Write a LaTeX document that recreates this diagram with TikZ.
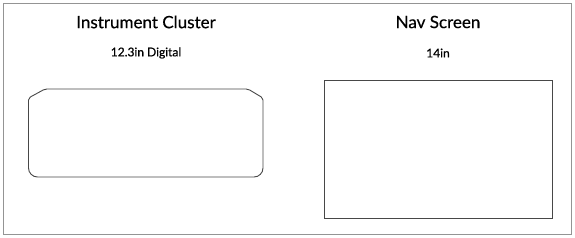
\documentclass[tikz,border=0pt]{standalone}
\usepackage{fontspec}
\setmainfont{Lato}
\begin{document}
\begin{tikzpicture}[x=1pt,y=-1pt,
  frame/.style={draw=black!42,line width=1.6pt},
  screen/.style={draw=black!72,line width=0.9pt},
  title/.style={font=\fontsize{17}{20}\selectfont\addfontfeature{FakeBold=0.4}},
  sub/.style={font=\fontsize{12}{14}\selectfont\addfontfeature{FakeBold=0.6}}]
\useasboundingbox (0,0) rectangle (575,238);
\draw[frame] (3.5,3.5) rectangle (571.5,234.5);
\node[title] (t1) at (146,22) {Instrument Cluster};
\node[sub] (s1) at (146,53) {12.3in Digital};
\node[title] (t2) at (438,22) {Nav Screen};
\node[sub] (s2) at (438,53) {14in};
\draw[screen,rounded corners=2pt] (45,89) -- (248,89) -- (263,98)
  [rounded corners=9pt] -- (263,177) -- (28.5,177)
  [rounded corners=2pt] -- (28.5,98) -- cycle;
\node[screen,minimum width=228pt,minimum height=138pt,inner sep=0pt] (nav) at (438,149) {};
\end{tikzpicture}
\end{document}
